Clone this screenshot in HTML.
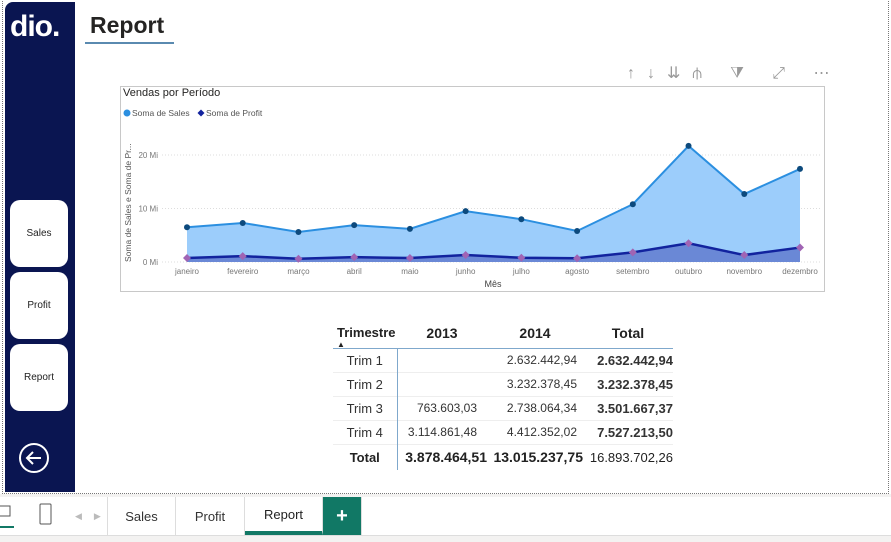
<!DOCTYPE html>
<html><head><meta charset="utf-8"><style>
body{margin:0;width:891px;height:542px;overflow:hidden;background:#fff;font-family:"Liberation Sans",sans-serif;position:relative}
.abs{position:absolute}
.navbtn{position:absolute;left:10px;width:58px;height:67px;background:#fff;border-radius:10px;font-size:10px;color:#222;display:flex;align-items:center;justify-content:center}
.tab{position:absolute;top:497px;height:38px;background:#fff;font-size:13px;color:#333;display:flex;align-items:center;justify-content:center;border-right:1px solid #ddd}
table{border-collapse:collapse;font-size:13px;color:#333;table-layout:fixed}
td{padding:0;white-space:nowrap}
</style></head><body>
<div class="abs" style="left:2px;top:-2px;width:885px;height:494px;border:1px dotted #777"></div>
<div class="abs" style="left:5px;top:2px;width:70px;height:490px;background:#0a1551;border-radius:8px 0 0 0"></div>
<div class="abs" style="left:10px;top:12px;color:#fff;font-weight:bold;font-size:30px;letter-spacing:-1px;line-height:30px">dio.</div>
<div class="navbtn" style="top:200px">Sales</div>
<div class="navbtn" style="top:272px">Profit</div>
<div class="navbtn" style="top:344px">Report</div>
<svg class="abs" style="left:18px;top:442px" width="32" height="32"><circle cx="16" cy="16" r="14" fill="none" stroke="#fff" stroke-width="2"/><path d="M23 16H9M15 10l-6 6 6 6" fill="none" stroke="#fff" stroke-width="2"/></svg>
<div class="abs" style="left:90px;top:12px;font-size:23px;font-weight:bold;color:#252423">Report</div>
<div class="abs" style="left:85px;top:42px;width:89px;height:2px;background:#5a8ab0"></div>
<div class="abs" style="left:627px;top:63px;font-size:16px;color:#999;letter-spacing:12px">↑↓⇊⫛ ⧩ ⤢ ⋯</div>
<svg class="abs" style="left:0;top:0" width="891" height="300" id="chart"></svg>
<table class="abs" style="left:333px;top:318px;width:340px">
<colgroup><col style="width:64px"><col style="width:90px"><col style="width:96px"><col style="width:90px"></colgroup>
<tr style="height:30px;font-weight:bold;color:#222;font-size:14px;border-bottom:1px solid #7fa8cc">
<td style="padding-left:4px;position:relative;font-size:13px">Trimestre<span style="position:absolute;left:4px;top:22px;font-size:8px">▲</span></td><td style="text-align:center">2013</td><td style="text-align:center">2014</td><td style="text-align:center">Total</td></tr>
<tr style="height:24px;border-bottom:1px solid #eee"><td style="text-align:center;border-right:1px solid #7fa8cc">Trim 1</td><td></td><td style="text-align:right;padding-right:6px;font-size:12px">2.632.442,94</td><td style="text-align:right;font-weight:bold">2.632.442,94</td></tr>
<tr style="height:24px;border-bottom:1px solid #eee"><td style="text-align:center;border-right:1px solid #7fa8cc">Trim 2</td><td></td><td style="text-align:right;padding-right:6px;font-size:12px">3.232.378,45</td><td style="text-align:right;font-weight:bold">3.232.378,45</td></tr>
<tr style="height:24px;border-bottom:1px solid #eee"><td style="text-align:center;border-right:1px solid #7fa8cc">Trim 3</td><td style="text-align:right;padding-right:10px;font-size:12px">763.603,03</td><td style="text-align:right;padding-right:6px;font-size:12px">2.738.064,34</td><td style="text-align:right;font-weight:bold">3.501.667,37</td></tr>
<tr style="height:24px;border-bottom:1px solid #eee"><td style="text-align:center;border-right:1px solid #7fa8cc">Trim 4</td><td style="text-align:right;padding-right:10px;font-size:12px">3.114.861,48</td><td style="text-align:right;padding-right:6px;font-size:12px">4.412.352,02</td><td style="text-align:right;font-weight:bold">7.527.213,50</td></tr>
<tr style="height:26px;font-weight:bold;color:#222"><td style="text-align:center;border-right:1px solid #7fa8cc">Total</td><td style="text-align:right;font-size:14px">3.878.464,51</td><td style="text-align:right;font-size:14px">13.015.237,75</td><td style="text-align:right;font-weight:normal">16.893.702,26</td></tr>
</table>
<div class="abs" style="left:0;top:494px;width:891px;height:48px;background:#f3f2f1"></div>
<div class="abs" style="left:0;top:497px;width:891px;height:38px;background:#fff;border-bottom:1px solid #ddd"></div>
<svg class="abs" style="left:0;top:504px" width="14" height="24"><rect x="-4" y="2" width="14" height="10" fill="none" stroke="#555"/><rect x="0" y="22" width="14" height="2" fill="#117865"/></svg>
<svg class="abs" style="left:39px;top:503px" width="14" height="24"><rect x="1" y="1" width="11" height="20" rx="1" fill="none" stroke="#555"/></svg>
<div class="abs" style="left:75px;top:511px;font-size:9px;color:#bbb;letter-spacing:12px">◀▶</div>
<div class="abs" style="left:107px;top:497px;width:1px;height:38px;background:#ddd"></div>
<div class="tab" style="left:108px;width:67px">Sales</div>
<div class="tab" style="left:176px;width:68px">Profit</div>
<div class="tab" style="left:245px;width:77px;color:#222;border-bottom:4px solid #117865;height:34px">Report</div>
<div class="tab" style="left:323px;width:38px;background:#117865;color:#fff;font-size:20px;font-weight:bold">+</div>
<script>
const months=["janeiro","fevereiro","março","abril","maio","junho","julho","agosto","setembro","outubro","novembro","dezembro"];
const sales=[6.5,7.3,5.6,6.9,6.2,9.5,8.0,5.8,10.8,21.7,12.7,17.4];
const profit=[0.75,1.1,0.6,0.9,0.75,1.3,0.8,0.7,1.8,3.5,1.3,2.7];
const yTicks=[0,10,20];
const yTickLabels=["0 Mi","10 Mi","20 Mi"];
const svg=document.getElementById('chart');
const NS='http://www.w3.org/2000/svg';
const x=i=>187+i*(800-187)/(months.length-1);
const y=v=>262-v*5.35;
function mk(t,a,txt){const e=document.createElementNS(NS,t);for(const k in a)e.setAttribute(k,a[k]);if(txt!==undefined)e.textContent=txt;svg.appendChild(e);return e;}
let e;
e=mk('rect',{x:120.5,y:86.5,width:704,height:205,fill:'none',stroke:'#c8c8c8'});


e=mk('text',{x:123,y:96,'font-size':11,fill:'#252423'},'Vendas por Período');


e=mk('circle',{cx:127,cy:113,r:3.5,fill:'#2b8fe0'});


e=mk('text',{x:132,y:116,'font-size':8.5,fill:'#555'},'Soma de  Sales');


e=mk('path',{d:'M201 109.5l3.5 3.5-3.5 3.5-3.5-3.5z',fill:'#12239e'});


e=mk('text',{x:206,y:116,'font-size':8.5,fill:'#555'},'Soma de Profit');


e=mk('text',{x:0,y:0,'font-size':8.5,fill:'#555',transform:'translate(131,262) rotate(-90)'},'Soma de Sales e Soma de Pr...');


yTicks.forEach((t,i)=>{
 e=mk('line',{x1:162,x2:820,y1:y(t),y2:y(t),stroke:'#ddd','stroke-dasharray':'1 2'});
 
 
 e=mk('text',{x:158,y:y(t)+3,'font-size':8,fill:'#777','text-anchor':'end'},yTickLabels[i]);
 
 
});
let sp=sales.map((v,i)=>x(i)+','+y(v)).join(' ');
e=mk('polygon',{points:x(0)+','+y(0)+' '+sp+' '+x(11)+','+y(0),fill:'#9ccdfb'});


let pp=profit.map((v,i)=>x(i)+','+y(v)).join(' ');
e=mk('polygon',{points:x(0)+','+y(0)+' '+pp+' '+x(11)+','+y(0),fill:'#6a88d6'});


e=mk('polyline',{points:sp,fill:'none',stroke:'#2b8fe0','stroke-width':2});


e=mk('polyline',{points:pp,fill:'none',stroke:'#12239e','stroke-width':2.5});


sales.forEach((v,i)=>{
 e=mk('circle',{cx:x(i),cy:y(v),r:3,fill:'#0d4a7d'});
 
 
});
profit.forEach((v,i)=>{
 const cx=x(i),cy=y(v);
 e=mk('path',{d:`M${cx} ${cy-4}l4 4-4 4-4-4z`,fill:'#a064b4'});
 
 
});
months.forEach((m,i)=>{
 e=mk('text',{x:x(i),y:274,'font-size':8,fill:'#777','text-anchor':'middle'},m);
 
 
});
e=mk('text',{x:493,y:287,'font-size':9,fill:'#444','text-anchor':'middle'},'Mês');


</script>
</body></html>
